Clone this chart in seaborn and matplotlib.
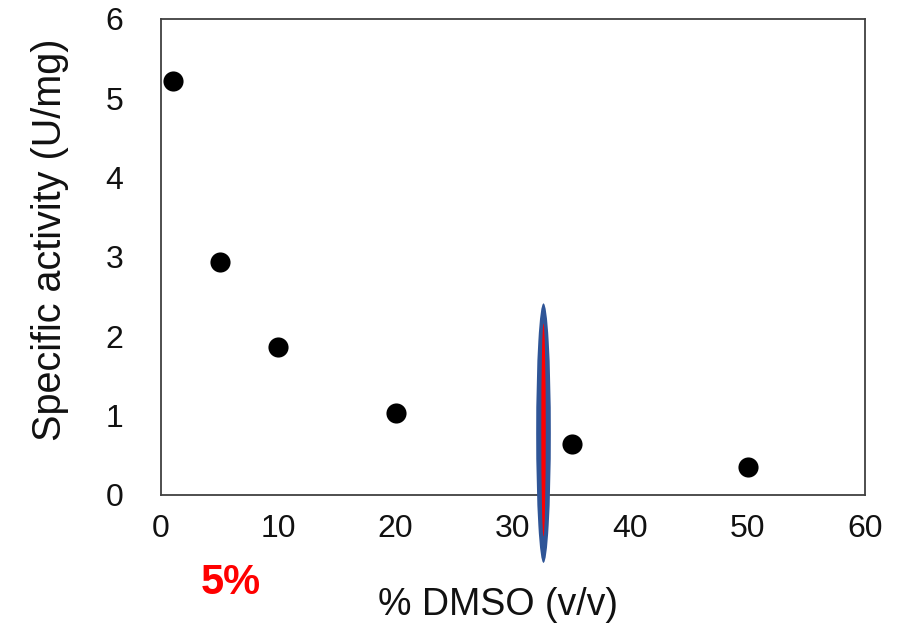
import matplotlib
matplotlib.use("Agg")
import matplotlib.pyplot as plt
from matplotlib.patches import Ellipse
import seaborn as sns
import pandas as pd

dmso = [1, 5, 10, 20, 35, 50]
activity = [5.22, 2.94, 1.87, 1.03, 0.64, 0.35]
xticks = [0, 10, 20, 30, 40, 50, 60]
yticks = [0, 1, 2, 3, 4, 5, 6]

# annotation (blue ellipse with red line)
mark_x = 32.6
mark_y = 0.78
mark_w = 1.25
mark_h = 3.27

sns.set_theme(style="white")
plt.rcParams['font.family'] = ['Liberation Sans', 'DejaVu Sans']

df = pd.DataFrame({"x": dmso, "y": activity})

fig = plt.figure(figsize=(9.17, 6.26), dpi=100)
L, R, T, B = 161, 865, 19, 495
ax = fig.add_axes([L/917, 1-B/626, (R-L)/917, (B-T)/626])

sns.scatterplot(data=df, x="x", y="y", ax=ax, s=210, color="black",
                edgecolor="black", linewidth=0, zorder=3)

ax.set_xlim(0, 60)
ax.set_ylim(0, 6)
ax.set_xticks(xticks)
ax.set_yticks(yticks)
ax.tick_params(axis='both', length=0, labelsize=23, colors='#111111')
ax.tick_params(axis='x', pad=14)
ax.tick_params(axis='y', pad=27)
for sp in ax.spines.values():
    sp.set_color('#404040')
    sp.set_linewidth(1.3)
    sp.set_visible(True)

ax.set_xlabel("% DMSO (v/v)", fontsize=27, color='#111111')
ax.set_ylabel("Specific activity (U/mg)", fontsize=28.5, color='#111111')
ax.xaxis.set_label_coords((498-L)/(R-L), (B-605)/(B-T))
ax.yaxis.set_label_coords((50-L)/(R-L), (B-240)/(B-T))
ax.xaxis.label.set_va('center')
ax.yaxis.label.set_va('center')

ell = Ellipse((mark_x, mark_y), mark_w, mark_h, facecolor='#2F5597',
              edgecolor='none', clip_on=False, zorder=4)
ax.add_patch(ell)
red = Ellipse((mark_x, mark_y + 0.04), mark_w * 0.3, mark_h * 0.82,
              facecolor='#FF0000', edgecolor='none', clip_on=False, zorder=5)
ax.add_patch(red)

fig.text(231/917, 1-583/626, "5%", color='#FF0000', fontsize=30,
         fontweight='bold', ha='center', va='center',
         family=['Liberation Sans Narrow', 'Liberation Sans', 'DejaVu Sans'])

fig.savefig("out.png", dpi=100, facecolor='white')
